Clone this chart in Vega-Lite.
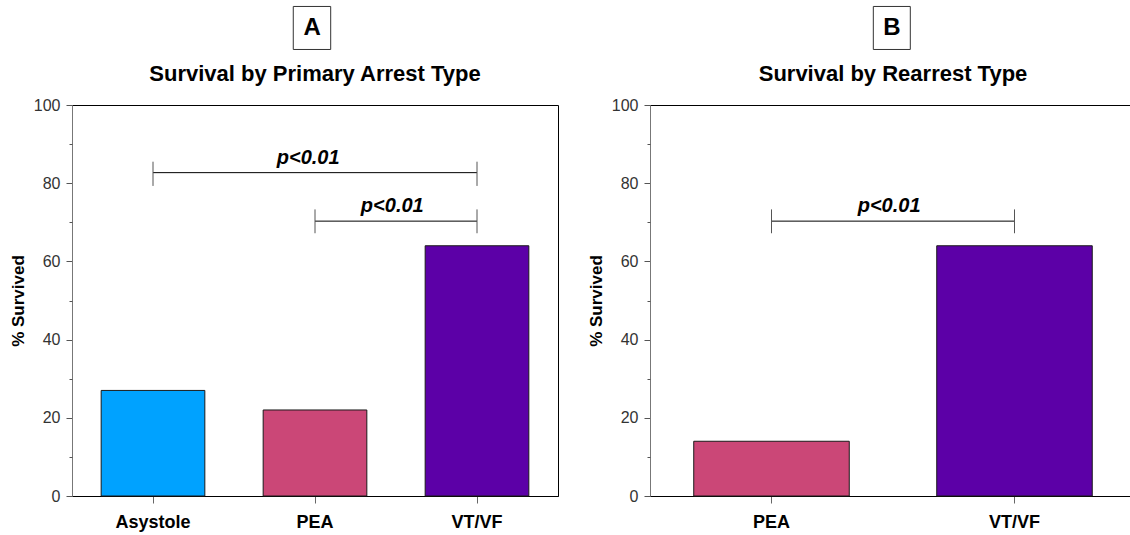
{
  "$schema": "https://vega.github.io/schema/vega-lite/v6.json",
  "padding": {"left": 8, "top": 5, "right": 0, "bottom": 0},
  "background": "#ffffff",
  "config": {
    "font": "Liberation Sans",
    "view": {"stroke": "#000000", "strokeWidth": 1},
    "axis": {"grid": false},
    "axisX": {"domainColor": "#000000", "tickColor": "#666666", "tickSize": 7, "labelFontSize": 18, "labelFontWeight": "bold", "labelColor": "#000000", "labelPadding": 10, "labelAngle": 0},
    "axisY": {"domainColor": "#777777", "tickColor": "#555555", "labelFontSize": 16, "labelColor": "#333333", "labelPadding": 6, "titleFontSize": 17, "titleFontWeight": "bold", "titleColor": "#000000", "titlePadding": 6}
  },
  "datasets": {
    "primary": [
      {"type": "Asystole", "survived": 27},
      {"type": "PEA", "survived": 22},
      {"type": "VT/VF", "survived": 64}
    ],
    "rearrest": [
      {"type": "PEA", "survived": 14},
      {"type": "VT/VF", "survived": 64}
    ],
    "one": [{"k": 1}]
  },
  "spacing": 27,
  "hconcat": [
    {
      "width": 486,
      "height": 391,
      "title": {"text": "Survival by Primary Arrest Type", "fontSize": 22, "fontWeight": "bold", "color": "#000000", "offset": -80, "frame": "group"},
      "resolve": {"scale": {"x": "independent"}, "axis": {"y": "independent"}},
      "layer": [
        {
          "layer": [
            {
              "data": {"name": "primary"},
              "mark": {"type": "bar", "stroke": "#1a1a1a", "strokeWidth": 1},
              "encoding": {
                "x": {"field": "type", "type": "nominal", "sort": ["Asystole", "PEA", "VT/VF"], "scale": {"domain": ["Asystole", "PEA", "VT/VF"], "paddingInner": 0.36, "paddingOuter": 0.18}, "axis": {"title": null}},
                "y": {"field": "survived", "type": "quantitative", "scale": {"domain": [0, 100]}, "axis": {"title": "% Survived", "orient": "left", "values": [0, 20, 40, 60, 80, 100], "tickSize": 6}},
                "color": {"field": "type", "type": "nominal", "scale": {"domain": ["Asystole", "PEA", "VT/VF"], "range": ["#00A2FF", "#CB4777", "#5C00A7"]}, "legend": null}
              }
            },
            {
              "data": {"name": "one"},
              "mark": {"type": "rule", "color": "#000000", "strokeWidth": 1},
              "encoding": {"x": {"datum": "Asystole"}, "x2": {"datum": "VT/VF"}, "y": {"datum": 82.7}}
            },
            {
              "data": {"name": "one"},
              "mark": {"type": "rule", "color": "#555555", "strokeWidth": 1},
              "encoding": {"x": {"datum": "Asystole"}, "y": {"datum": 85.5}, "y2": {"datum": 79.3}}
            },
            {
              "data": {"name": "one"},
              "mark": {"type": "rule", "color": "#555555", "strokeWidth": 1},
              "encoding": {"x": {"datum": "VT/VF"}, "y": {"datum": 85.5}, "y2": {"datum": 79.3}}
            },
            {
              "data": {"name": "one"},
              "mark": {"type": "rule", "color": "#000000", "strokeWidth": 1},
              "encoding": {"x": {"datum": "PEA"}, "x2": {"datum": "VT/VF"}, "y": {"datum": 70.3}}
            },
            {
              "data": {"name": "one"},
              "mark": {"type": "rule", "color": "#555555", "strokeWidth": 1},
              "encoding": {"x": {"datum": "PEA"}, "y": {"datum": 73.3}, "y2": {"datum": 67.2}}
            },
            {
              "data": {"name": "one"},
              "mark": {"type": "rule", "color": "#555555", "strokeWidth": 1},
              "encoding": {"x": {"datum": "VT/VF"}, "y": {"datum": 73.3}, "y2": {"datum": 67.2}}
            }
          ]
        },
        {
          "data": {"name": "one"},
          "layer": [
            {
              "mark": {"type": "rect", "fill": null, "fillOpacity": 0, "stroke": "#333333", "strokeWidth": 1},
              "encoding": {"x": {"datum": 0.4553, "type": "quantitative", "scale": {"domain": [0, 1]}, "axis": null}, "x2": {"datum": 0.5323}, "y": {"datum": 125.2, "axis": {"orient": "left", "title": null, "values": [10, 30, 50, 70, 90], "labels": false, "domain": false, "tickSize": 3}}, "y2": {"datum": 114.2}}
            },
            {
              "mark": {"type": "text", "text": "A", "fontSize": 24, "fontWeight": "bold", "color": "#000000", "align": "center", "baseline": "middle"},
              "encoding": {"x": {"datum": 0.494, "type": "quantitative", "scale": {"domain": [0, 1]}, "axis": null}, "y": {"datum": 119.8}}
            },
            {
              "mark": {"type": "text", "text": "p<0.01", "fontSize": 20, "fontWeight": "bold", "fontStyle": "italic", "color": "#000000", "align": "center", "baseline": "alphabetic"},
              "encoding": {"x": {"datum": 0.486, "type": "quantitative", "scale": {"domain": [0, 1]}, "axis": null}, "y": {"datum": 85.0}}
            },
            {
              "mark": {"type": "text", "text": "p<0.01", "fontSize": 20, "fontWeight": "bold", "fontStyle": "italic", "color": "#000000", "align": "center", "baseline": "alphabetic"},
              "encoding": {"x": {"datum": 0.659, "type": "quantitative", "scale": {"domain": [0, 1]}, "axis": null}, "y": {"datum": 72.7}}
            }
          ]
        }
      ]
    },
    {
      "width": 486,
      "height": 391,
      "title": {"text": "Survival by Rearrest Type", "fontSize": 22, "fontWeight": "bold", "color": "#000000", "offset": -80, "frame": "group"},
      "resolve": {"scale": {"x": "independent"}, "axis": {"y": "independent"}},
      "layer": [
        {
          "layer": [
            {
              "data": {"name": "rearrest"},
              "mark": {"type": "bar", "stroke": "#1a1a1a", "strokeWidth": 1},
              "encoding": {
                "x": {"field": "type", "type": "nominal", "sort": ["PEA", "VT/VF"], "scale": {"domain": ["PEA", "VT/VF"], "paddingInner": 0.36, "paddingOuter": 0.18}, "axis": {"title": null}},
                "y": {"field": "survived", "type": "quantitative", "scale": {"domain": [0, 100]}, "axis": {"title": "% Survived", "orient": "left", "values": [0, 20, 40, 60, 80, 100], "tickSize": 6}},
                "color": {"field": "type", "type": "nominal", "scale": {"domain": ["PEA", "VT/VF"], "range": ["#CB4777", "#5C00A7"]}, "legend": null}
              }
            },
            {
              "data": {"name": "one"},
              "mark": {"type": "rule", "color": "#000000", "strokeWidth": 1},
              "encoding": {"x": {"datum": "PEA"}, "x2": {"datum": "VT/VF"}, "y": {"datum": 70.3}}
            },
            {
              "data": {"name": "one"},
              "mark": {"type": "rule", "color": "#555555", "strokeWidth": 1},
              "encoding": {"x": {"datum": "PEA"}, "y": {"datum": 73.3}, "y2": {"datum": 67.2}}
            },
            {
              "data": {"name": "one"},
              "mark": {"type": "rule", "color": "#555555", "strokeWidth": 1},
              "encoding": {"x": {"datum": "VT/VF"}, "y": {"datum": 73.3}, "y2": {"datum": 67.2}}
            }
          ]
        },
        {
          "data": {"name": "one"},
          "layer": [
            {
              "mark": {"type": "rect", "fill": null, "fillOpacity": 0, "stroke": "#333333", "strokeWidth": 1},
              "encoding": {"x": {"datum": 0.4595, "type": "quantitative", "scale": {"domain": [0, 1]}, "axis": null}, "x2": {"datum": 0.5356}, "y": {"datum": 125.2, "axis": {"orient": "left", "title": null, "values": [10, 30, 50, 70, 90], "labels": false, "domain": false, "tickSize": 3}}, "y2": {"datum": 114.2}}
            },
            {
              "mark": {"type": "text", "text": "B", "fontSize": 24, "fontWeight": "bold", "color": "#000000", "align": "center", "baseline": "middle"},
              "encoding": {"x": {"datum": 0.498, "type": "quantitative", "scale": {"domain": [0, 1]}, "axis": null}, "y": {"datum": 119.8}}
            },
            {
              "mark": {"type": "text", "text": "p<0.01", "fontSize": 20, "fontWeight": "bold", "fontStyle": "italic", "color": "#000000", "align": "center", "baseline": "alphabetic"},
              "encoding": {"x": {"datum": 0.492, "type": "quantitative", "scale": {"domain": [0, 1]}, "axis": null}, "y": {"datum": 72.7}}
            }
          ]
        }
      ]
    }
  ]
}
